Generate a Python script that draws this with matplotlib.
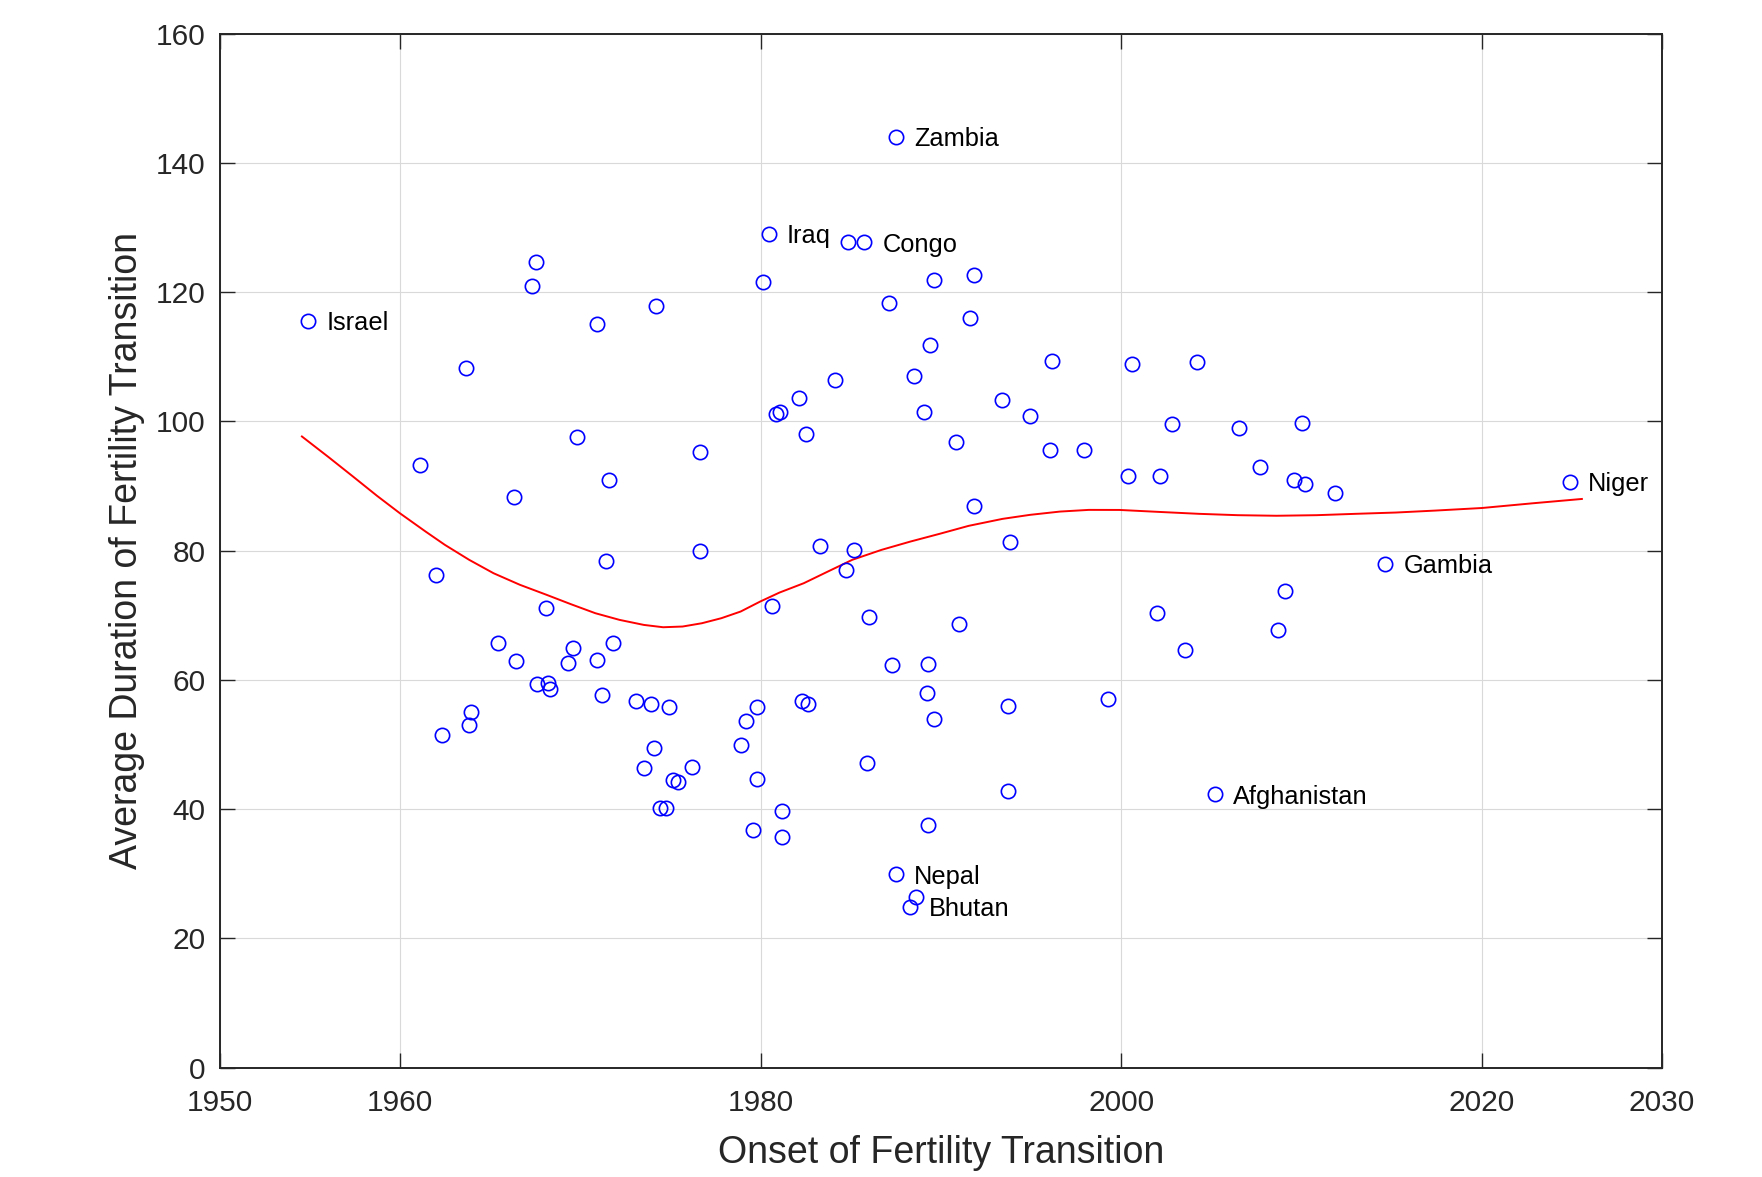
import matplotlib
matplotlib.use("Agg")
import matplotlib.pyplot as plt

# onset year of the fertility transition and its average duration, one entry per country
onset = [1954.9, 1961.1, 1962.0, 1962.3, 1963.65, 1963.8, 1963.9, 1965.4, 1966.3, 1966.4,
         1967.3, 1967.5, 1967.6, 1968.1, 1968.2, 1968.3, 1969.3, 1969.6, 1969.8, 1970.9,
         1970.9, 1971.2, 1971.4, 1971.6, 1971.8, 1973.1, 1973.5, 1973.9, 1974.1, 1974.2,
         1974.4, 1974.75, 1974.9, 1975.1, 1975.4, 1976.2, 1976.6, 1976.6, 1978.9, 1979.2,
         1979.55, 1979.8, 1979.8, 1980.1, 1980.43, 1980.6, 1980.83, 1981.09, 1981.2, 1981.2,
         1982.1, 1982.3, 1982.53, 1982.6, 1983.31, 1984.09, 1984.74, 1984.83, 1985.17, 1985.74,
         1985.9, 1986.0, 1987.09, 1987.3, 1987.5, 1987.5, 1988.3, 1988.6, 1988.5, 1989.07,
         1989.2, 1989.3, 1989.4, 1989.3, 1989.62, 1989.6, 1990.85, 1991.0, 1991.62, 1991.85,
         1991.85, 1993.4, 1993.7, 1993.7, 1993.85, 1994.96, 1996.06, 1996.17, 1997.95, 1999.25,
         2000.39, 2000.61, 2002.0, 2002.16, 2002.8, 2003.55, 2004.2, 2005.2, 2006.5, 2007.7,
         2008.7, 2009.1, 2009.6, 2010.0, 2010.2, 2011.85, 2014.65, 2024.9]
duration = [115.6, 93.2, 76.2, 51.5, 108.3, 53.0, 55.0, 65.7, 88.3, 63.0,
            121.0, 124.7, 59.3, 71.1, 59.5, 58.6, 62.6, 65.0, 97.6, 63.1,
            115.1, 57.7, 78.4, 91.0, 65.7, 56.7, 46.4, 56.2, 49.4, 117.9,
            40.2, 40.2, 55.8, 44.5, 44.2, 46.6, 95.3, 80.0, 49.9, 53.7,
            36.7, 55.8, 44.7, 121.6, 129.0, 71.5, 101.2, 101.4, 39.7, 35.7,
            103.6, 56.7, 98.0, 56.3, 80.7, 106.4, 77.0, 127.7, 80.1, 127.7,
            47.1, 69.7, 118.4, 62.3, 144.0, 29.9, 24.9, 26.4, 107.0, 101.4,
            57.9, 37.6, 111.9, 62.4, 121.9, 53.9, 96.8, 68.7, 116.0, 122.7,
            86.9, 103.3, 42.8, 56.0, 81.4, 100.8, 95.6, 109.4, 95.6, 57.0,
            91.5, 108.9, 70.3, 91.5, 99.6, 64.7, 109.2, 42.3, 99.0, 92.9,
            67.8, 73.7, 91.0, 99.7, 90.3, 88.9, 77.9, 90.6]

# labelled countries
label_names = ["Israel", "Zambia", "Iraq", "Congo", "Nepal", "Bhutan", "Afghanistan", "Gambia", "Niger"]
label_x = [1954.9, 1987.5, 1980.43, 1985.74, 1987.5, 1988.3, 2005.2, 2014.65, 2024.9]
label_y = [115.6, 144.0, 129.0, 127.7, 29.9, 24.9, 42.3, 77.9, 90.6]

# smoothed trend (red curve)
trend_x = [1954.54, 1956.02, 1957.37, 1958.71, 1959.97, 1961.40, 1962.47, 1963.82, 1965.17, 1966.64,
           1968.12, 1969.47, 1970.82, 1972.16, 1973.51, 1974.58, 1975.66, 1976.73, 1977.81, 1978.88,
           1979.96, 1981.03, 1982.38, 1983.72, 1985.07, 1986.69, 1988.30, 1989.91, 1991.53, 1993.41,
           1994.93, 1996.6, 1998.2, 1999.9, 2002.06, 2004.3, 2006.45, 2008.6, 2010.84, 2013.0,
           2015.23, 2017.4, 2020.0, 2022.9, 2025.55]
trend_y = [97.67, 94.47, 91.48, 88.48, 85.80, 82.96, 80.90, 78.58, 76.51, 74.71,
           73.16, 71.71, 70.32, 69.29, 68.51, 68.15, 68.26, 68.77, 69.55, 70.58,
           72.12, 73.51, 74.96, 76.77, 78.58, 80.12, 81.41, 82.60, 83.84, 84.92,
           85.54, 86.05, 86.31, 86.3, 86.0, 85.7, 85.49, 85.4, 85.49, 85.7,
           85.9, 86.2, 86.6, 87.35, 88.0]

plt.rcParams['font.family'] = ['Liberation Sans', 'DejaVu Sans']
dark = '#262626'

fig = plt.figure(figsize=(17.62, 11.77), dpi=100)
ax = fig.add_axes([0.1249, 0.0929, 0.8184, 0.8785])

ax.plot(onset, duration, 'o', color='none', markerfacecolor='none',
        markeredgecolor='#0000ff', markersize=10.3, markeredgewidth=1.2, zorder=3)
ax.plot(trend_x, trend_y, color='#ff0000', lw=1.4, zorder=2)

for name, x, y in zip(label_names, label_x, label_y):
    ax.text(x + 1.0, y - 0.35, name, fontsize=18.3, color='black', va='center', ha='left')

ax.set_xlim(1950, 2030)
ax.set_ylim(0, 160)
ax.set_xticks([1950, 1960, 1980, 2000, 2020, 2030])
ax.set_yticks(range(0, 161, 20))

ax.grid(True, color='#d9d9d9', lw=0.8)
ax.set_axisbelow(True)
for s in ax.spines.values():
    s.set_color(dark)
    s.set_linewidth(1.4)
ax.tick_params(direction='in', length=10.8, width=1.0, colors=dark, labelsize=21.5,
               top=True, right=True)
ax.tick_params(axis='x', pad=15.5)
ax.tick_params(axis='y', pad=10.4)

ax.set_xlabel("Onset of Fertility Transition", fontsize=27, color=dark)
ax.set_ylabel("Average Duration of Fertility Transition", fontsize=27, color=dark)
ax.xaxis.label.set_va('baseline')
ax.xaxis.set_label_coords(0.5, -0.0923)
ax.yaxis.label.set_va('baseline')
ax.yaxis.set_label_coords(-0.0576, 0.5)

fig.savefig("out.png", dpi=100)
